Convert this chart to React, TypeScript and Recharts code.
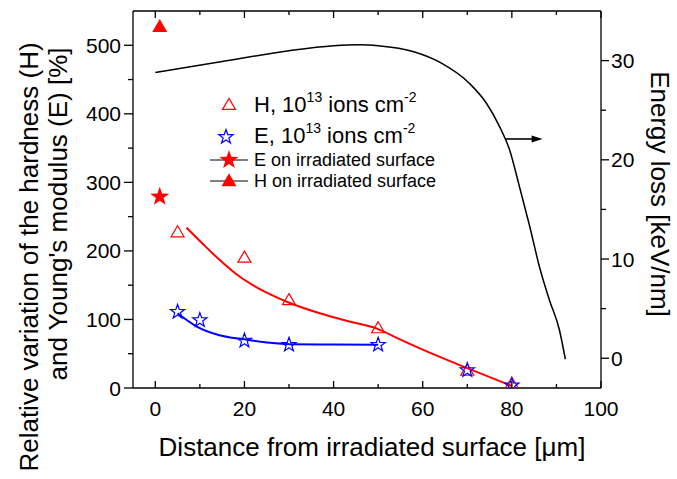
import React from "react";
import { ComposedChart, Label, Legend, Line, ReferenceLine, Scatter, XAxis, YAxis } from "recharts";

const FONT = "'Liberation Sans', Arial, Helvetica, sans-serif";

// hardness (H) and Young's modulus (E) after 10^13 ions cm^-2
const hDepth = [5, 20, 30, 50, 70, 80];
const hValue = [227, 190, 128, 87, 25, 6];
const eDepth = [5, 10, 20, 30, 50, 70, 80];
const eValue = [111, 99, 69, 63, 63, 26, 4];

// measured on the irradiated surface
const surfaceDepth = [1];
const eSurfaceValue = [279];
const hSurfaceValue = [527];

// guide curves through the points
const hFitDepth = [7, 10.7, 14.4, 18.2, 21.9, 25.7, 30.2, 36.9, 43.6, 49.6, 54.9, 60, 70, 80];
const hFitValue = [234, 210, 187, 166, 150, 137, 124, 109, 97, 87, 71, 56, 29, 3];
const eFitDepth = [5, 9.2, 14.4, 20, 25.7, 30.2, 40, 50];
const eFitValue = [109, 90, 77, 71, 66, 64, 63.5, 63];

// energy loss profile, right axis [keV/nm]
const lossDepth = [0, 15, 30, 40, 46, 50, 58, 64, 70.5, 74.3, 77.3, 79.5, 81.7, 84, 86.2, 88.4, 90.7, 92];
const lossValue = [28.8, 29.9, 31.0, 31.5, 31.6, 31.5, 30.9, 29.8, 27.7, 25.7, 23.3, 21.0, 17.3, 13.3, 9.2, 5.9, 2.8, -0.1];

const xTicks = [0, 10, 20, 30, 40, 50, 60, 70, 80, 90, 100];
const leftTicks = [0, 50, 100, 150, 200, 250, 300, 350, 400, 450, 500];
const rightTicks = [0, 5, 10, 15, 20, 25, 30];

const zip = (xs: number[], ys: number[]) => xs.map((x, i) => ({ x, y: ys[i] }));

function starPath(cx: number, cy: number, r: number) {
  const pts: string[] = [];
  for (let i = 0; i < 10; i++) {
    const rad = i % 2 === 0 ? r : r * 0.4;
    const a = -Math.PI / 2 + (i * Math.PI) / 5;
    pts.push(`${(cx + rad * Math.cos(a)).toFixed(2)},${(cy + rad * Math.sin(a)).toFixed(2)}`);
  }
  return "M" + pts.join("L") + "Z";
}

const triPath = (cx: number, cy: number, w: number, h: number) =>
  `M${cx},${cy - h * 0.6}L${cx + w / 2},${cy + h * 0.4}L${cx - w / 2},${cy + h * 0.4}Z`;

const OpenTriangle = (p: any) => <path d={triPath(p.cx, p.cy, 13, 11)} fill="none" stroke="#ff0000" strokeWidth={1.2} />;
const OpenStar = (p: any) => <path d={starPath(p.cx, p.cy, 7.5)} fill="none" stroke="#0000ff" strokeWidth={1.2} />;
const FilledStar = (p: any) => <path d={starPath(p.cx, p.cy, 10)} fill="#ff0000" />;
const FilledTriangle = (p: any) => <path d={triPath(p.cx, p.cy, 15, 13)} fill="#ff0000" />;

const BottomTick = ({ x, y, payload }: any) => {
  const major = payload.value % 20 === 0;
  return (
    <g>
      <line x1={x} x2={x} y1={y} y2={y - (major ? 7 : 4)} stroke="#000" strokeWidth={1.3} />
      {major && (
        <text x={x} y={y + 28} textAnchor="middle" fontSize={21} fontFamily={FONT} fill="#000">
          {payload.value}
        </text>
      )}
    </g>
  );
};

const TopTick = ({ x, y, payload }: any) => {
  const major = payload.value % 20 === 0;
  return <line x1={x} x2={x} y1={y} y2={y + (major ? 7 : 4)} stroke="#000" strokeWidth={1.3} />;
};

const LeftTick = ({ x, y, payload }: any) => {
  const major = payload.value % 100 === 0;
  return (
    <g>
      <line x1={x} x2={x - (major ? 9 : 5)} y1={y} y2={y} stroke="#000" strokeWidth={1.3} />
      {major && (
        <text x={x - 12} y={y + 7.5} textAnchor="end" fontSize={21} fontFamily={FONT} fill="#000">
          {payload.value}
        </text>
      )}
    </g>
  );
};

const RightTick = ({ x, y, payload }: any) => {
  const major = payload.value % 10 === 0;
  return (
    <g>
      <line x1={x} x2={x + (major ? 8 : 5)} y1={y} y2={y} stroke="#000" strokeWidth={1.3} />
      {major && (
        <text x={x + 10} y={y + 7.5} textAnchor="start" fontSize={21} fontFamily={FONT} fill="#000">
          {payload.value}
        </text>
      )}
    </g>
  );
};

const ArrowShape = (p: any) => (
  <g>
    <line x1={p.x1} y1={p.y1} x2={p.x2 - 8} y2={p.y2} stroke="#000" strokeWidth={1.6} />
    <path d={`M${p.x2},${p.y2}L${p.x2 - 11},${p.y2 - 3.5}L${p.x2 - 11},${p.y2 + 3.5}Z`} fill="#000" />
  </g>
);

const LegendBox = () => (
  <svg width={677} height={479} style={{ position: "absolute", left: 0, top: 0 }}>
    <g fontFamily={FONT} fill="#000">
      <OpenTriangle cx={229} cy={105} />
      <text x={254} y={112} fontSize={22}>
        H, 10<tspan dy={-10} fontSize={14}>13</tspan>
        <tspan dy={10}> ions cm</tspan>
        <tspan dy={-10} fontSize={14}>-2</tspan>
      </text>
      <OpenStar cx={226} cy={137} />
      <text x={254} y={143} fontSize={22}>
        E, 10<tspan dy={-10} fontSize={14}>13</tspan>
        <tspan dy={10}> ions cm</tspan>
        <tspan dy={-10} fontSize={14}>-2</tspan>
      </text>
      <line x1={210} x2={248} y1={160} y2={160} stroke="#000" strokeWidth={1} />
      <FilledStar cx={229} cy={160} />
      <text x={254} y={166} fontSize={18}>E on irradiated surface</text>
      <line x1={210} x2={248} y1={181} y2={181} stroke="#000" strokeWidth={1} />
      <FilledTriangle cx={229} cy={181} />
      <text x={254} y={187} fontSize={18}>H on irradiated surface</text>
    </g>
  </svg>
);

export default function App() {
  const axisLine = { stroke: "#000", strokeWidth: 1.3 };
  return (
    <div style={{ position: "absolute", left: 0, top: 0, width: 677, height: 479, background: "#fff" }}>
      <ComposedChart width={677} height={479} margin={{ top: 0, right: 0, bottom: 51, left: 0 }}>
        <XAxis
          xAxisId="b"
          dataKey="x"
          type="number"
          domain={[-5, 100]}
          ticks={xTicks}
          interval={0}
          allowDataOverflow
          height={40}
          tickSize={0}
          tickMargin={0}
          tickLine={false}
          axisLine={axisLine}
          tick={(p: any) => <BottomTick {...p} />}
        >
          <Label
            content={() => (
              <text x={372} y={456} textAnchor="middle" fontSize={26} fontFamily={FONT} fill="#000">
                Distance from irradiated surface [μm]
              </text>
            )}
          />
        </XAxis>
        <XAxis
          xAxisId="t"
          orientation="top"
          dataKey="x"
          type="number"
          domain={[-5, 100]}
          ticks={xTicks}
          interval={0}
          allowDataOverflow
          height={11}
          tickSize={0}
          tickMargin={0}
          tickLine={false}
          axisLine={axisLine}
          tick={(p: any) => <TopTick {...p} />}
        />
        <YAxis
          yAxisId="l"
          type="number"
          domain={[0, 550]}
          ticks={leftTicks}
          interval={0}
          allowDataOverflow
          width={133}
          tickSize={0}
          tickMargin={0}
          tickLine={false}
          axisLine={axisLine}
          tick={(p: any) => <LeftTick {...p} />}
        >
          <Label
            content={() => (
              <g fontFamily={FONT} fontSize={26} fill="#000">
                <text x={38} y={257} textAnchor="middle" transform="rotate(-90 38 257)">
                  Relative variation of the hardness (H)
                </text>
                <text x={67} y={214} textAnchor="middle" transform="rotate(-90 67 214)">
                  and Young's modulus (E)  [%]
                </text>
              </g>
            )}
          />
        </YAxis>
        <YAxis
          yAxisId="r"
          orientation="right"
          type="number"
          domain={[-3, 35]}
          ticks={rightTicks}
          interval={0}
          allowDataOverflow
          width={76}
          tickSize={0}
          tickMargin={0}
          tickLine={false}
          axisLine={axisLine}
          tick={(p: any) => <RightTick {...p} />}
        >
          <Label
            content={() => (
              <text x={651} y={194} textAnchor="middle" fontSize={26} fontFamily={FONT} fill="#000" transform="rotate(90 651 194)">
                Energy loss [keV/nm]
              </text>
            )}
          />
        </YAxis>

        <Line
          xAxisId="b"
          yAxisId="r"
          data={zip(lossDepth, lossValue)}
          dataKey="y"
          type="monotone"
          stroke="#000"
          strokeWidth={1.5}
          dot={false}
          isAnimationActive={false}
        />
        <Line
          xAxisId="b"
          yAxisId="l"
          data={zip(hFitDepth, hFitValue)}
          dataKey="y"
          type="monotone"
          stroke="#ff0000"
          strokeWidth={2}
          dot={false}
          isAnimationActive={false}
        />
        <Line
          xAxisId="b"
          yAxisId="l"
          data={zip(eFitDepth, eFitValue)}
          dataKey="y"
          type="monotone"
          stroke="#0000ff"
          strokeWidth={2}
          dot={false}
          isAnimationActive={false}
        />
        <Scatter
          xAxisId="b"
          yAxisId="l"
          data={zip(hDepth, hValue)}
          dataKey="y"
          shape={(p: any) => <OpenTriangle {...p} />}
          isAnimationActive={false}
        />
        <Scatter
          xAxisId="b"
          yAxisId="l"
          data={zip(eDepth, eValue)}
          dataKey="y"
          shape={(p: any) => <OpenStar {...p} />}
          isAnimationActive={false}
        />
        <Scatter
          xAxisId="b"
          yAxisId="l"
          data={zip(surfaceDepth, eSurfaceValue)}
          dataKey="y"
          shape={(p: any) => <FilledStar {...p} />}
          isAnimationActive={false}
        />
        <Scatter
          xAxisId="b"
          yAxisId="l"
          data={zip(surfaceDepth, hSurfaceValue)}
          dataKey="y"
          shape={(p: any) => <FilledTriangle {...p} />}
          isAnimationActive={false}
        />
        <ReferenceLine
          xAxisId="b"
          yAxisId="r"
          segment={[
            { x: 78.6, y: 22.1 },
            { x: 86.9, y: 22.1 },
          ]}
          shape={(p: any) => <ArrowShape {...p} />}
        />
        <Legend
          layout="vertical"
          align="center"
          verticalAlign="middle"
          content={() => <LegendBox />}
          wrapperStyle={{ position: "absolute", left: 0, top: 0, width: 677, height: 479, pointerEvents: "none" }}
        />
      </ComposedChart>
    </div>
  );
}
